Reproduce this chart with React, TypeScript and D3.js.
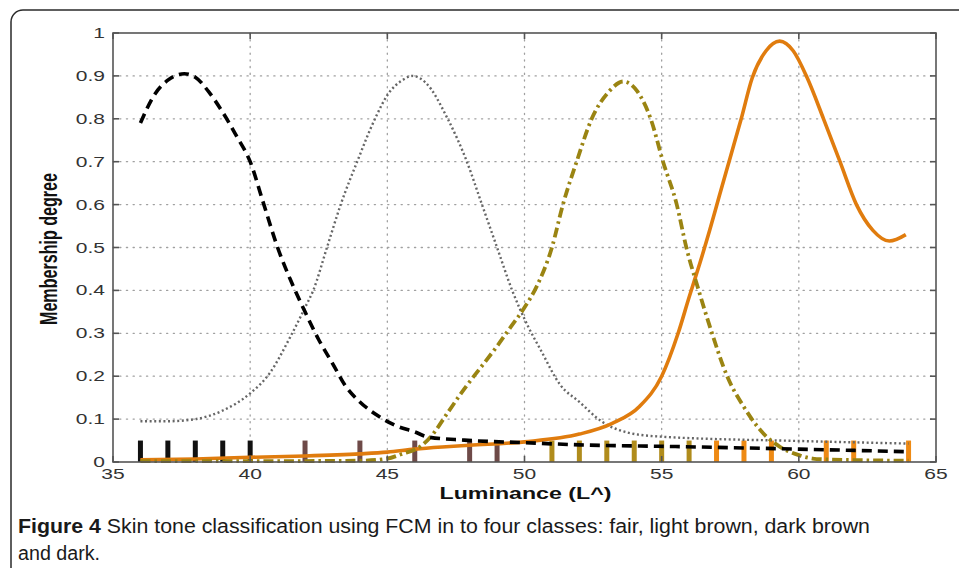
import { useEffect, useRef } from "react";
import * as d3 from "d3";

type Pt = [number, number];

// membership curves: [luminance, degree]
const FAIR: Pt[] = [
  [36, 0.79], [36.5, 0.855], [37, 0.89], [37.6, 0.905], [38, 0.897], [38.5, 0.862],
  [39, 0.815], [39.5, 0.76], [40, 0.7], [40.5, 0.6], [41, 0.5], [41.5, 0.42], [42, 0.35],
  [42.5, 0.285], [43, 0.23], [43.5, 0.175], [44, 0.14], [44.7, 0.106], [45.3, 0.085],
  [46, 0.07], [46.5, 0.058], [47.8, 0.051], [50, 0.045], [52, 0.04], [55.5, 0.036],
  [60, 0.03], [64, 0.024],
];
const LIGHT_BROWN: Pt[] = [
  [36, 0.095], [37, 0.095], [38, 0.1], [39, 0.12], [40, 0.16], [40.7, 0.206],
  [41.45, 0.29], [42, 0.36], [42.3, 0.4], [42.8, 0.5], [43.3, 0.6], [43.9, 0.7],
  [44.55, 0.8], [45, 0.855], [45.6, 0.892], [45.9, 0.9], [46.4, 0.884], [47.2, 0.8],
  [47.9, 0.7], [48.45, 0.6], [49, 0.5], [49.55, 0.4], [50.1, 0.32], [50.6, 0.26],
  [51.3, 0.18], [52, 0.14], [52.8, 0.095], [53.8, 0.068], [55, 0.059], [60, 0.049], [64, 0.043],
];
const DARK_BROWN: Pt[] = [
  [36, 0.002], [40, 0.002], [44, 0.003], [45, 0.008], [45.5, 0.018], [46.2, 0.036],
  [46.6, 0.06], [47.2, 0.115], [47.8, 0.17], [48.4, 0.22], [49, 0.27], [49.5, 0.315],
  [50, 0.36], [50.45, 0.41], [51, 0.5], [51.4, 0.6], [51.9, 0.7], [52.45, 0.8],
  [53.1, 0.865], [53.6, 0.887], [54.1, 0.865], [54.6, 0.8], [55.05, 0.7], [55.55, 0.6],
  [55.9, 0.5], [56.35, 0.4], [56.8, 0.307], [57.4, 0.198], [58, 0.128], [58.7, 0.067],
  [59.3, 0.036], [60, 0.016], [60.5, 0.008], [61, 0.006], [64, 0.003],
];
const DARK: Pt[] = [
  [36, 0.005], [38, 0.007], [40, 0.011], [42, 0.014], [44, 0.019], [45, 0.023],
  [46, 0.03], [47, 0.035], [48, 0.039], [50, 0.047], [52, 0.065], [53.2, 0.09],
  [54.2, 0.13], [55, 0.2], [55.6, 0.3], [56, 0.384], [56.4, 0.465], [56.75, 0.54],
  [57.1, 0.62], [57.5, 0.71], [57.9, 0.8], [58.3, 0.895], [58.8, 0.958], [59.3, 0.981],
  [59.8, 0.958], [60.3, 0.896], [60.9, 0.8], [61.5, 0.7], [62.1, 0.6], [62.7, 0.54],
  [63.3, 0.515], [63.9, 0.53],
];

// classified samples (stems at the bottom)
const STEM_FAIR = [36, 37, 38, 39, 40];
const STEM_LIGHT = [42, 44, 46, 48, 49];
const STEM_DARKBROWN = [51, 52, 53, 54, 55, 56];
const STEM_DARK = [57, 58, 59, 61, 62, 64];
const STEM_H = 0.05;

const X_TICKS = [35, 40, 45, 50, 55, 60, 65];
const Y_TICKS = [0, 0.1, 0.2, 0.3, 0.4, 0.5, 0.6, 0.7, 0.8, 0.9, 1];

const CAPTION_BOLD = "Figure 4";
const CAPTION_1 = " Skin tone classification using FCM in to four classes: fair, light brown, dark brown";
const CAPTION_2 = "and dark.";

export default function App() {
  const svgRef = useRef<SVGSVGElement | null>(null);

  useEffect(() => {
    if (!svgRef.current) return;
    const W = 959, H = 568;
    const m = { top: 33, left: 113, right: 936, bottom: 462 };
    const SX = 1.45; // the plot's lettering is stretched horizontally

    const svg = d3.select(svgRef.current);
    svg.selectAll("*").remove();
    svg.attr("width", W).attr("height", H);

    svg.append("rect").attr("width", W).attr("height", H).attr("fill", "#fff");

    // frame round figure + caption
    svg.append("rect")
      .attr("x", 11).attr("y", 10).attr("width", 1000).attr("height", 620)
      .attr("rx", 12).attr("fill", "none").attr("stroke", "#2a2a2a").attr("stroke-width", 1.5);

    const x = d3.scaleLinear().domain([35, 65]).range([m.left, m.right]);
    const y = d3.scaleLinear().domain([0, 1]).range([m.bottom, m.top]);

    // grid
    const grid = svg.append("g").attr("stroke", "#a0a0a0").attr("stroke-width", 1.3)
      .attr("stroke-dasharray", "1.2,5.5").attr("stroke-linecap", "round");
    X_TICKS.slice(1, -1).forEach((t) => {
      grid.append("line").attr("x1", x(t)).attr("x2", x(t)).attr("y1", m.top).attr("y2", m.bottom);
    });
    Y_TICKS.slice(1, -1).forEach((t) => {
      grid.append("line").attr("x1", m.left).attr("x2", m.right).attr("y1", y(t)).attr("y2", y(t));
    });

    // stems
    const stems: [number[], string][] = [
      [STEM_FAIR, "#111"],
      [STEM_LIGHT, "#6e4a48"],
      [STEM_DARKBROWN, "#b08c1c"],
      [STEM_DARK, "#ee8a14"],
    ];
    stems.forEach(([xs, color]) => {
      svg.append("g").selectAll("line").data(xs).join("line")
        .attr("x1", (d) => x(d)).attr("x2", (d) => x(d))
        .attr("y1", y(0)).attr("y2", y(STEM_H))
        .attr("stroke", color).attr("stroke-width", 5);
    });

    // curves
    const line = d3.line<Pt>().x((d) => x(d[0])).y((d) => y(d[1])).curve(d3.curveMonotoneX);
    const SERIES: { data: Pt[]; color: string; width: number; dash: string }[] = [
      { data: LIGHT_BROWN, color: "#666", width: 2.4, dash: "2,2.6" },
      { data: DARK, color: "#e07c0e", width: 3.6, dash: "none" },
      { data: DARK_BROWN, color: "#9a8412", width: 3.8, dash: "10,4,2.5,4" },
      { data: FAIR, color: "#000", width: 3.6, dash: "10,6" },
    ];
    SERIES.forEach((s) => {
      svg.append("path").datum(s.data)
        .attr("fill", "none").attr("stroke", s.color).attr("stroke-width", s.width)
        .attr("stroke-dasharray", s.dash).attr("d", line);
    });

    // axes box + inward ticks
    svg.append("rect")
      .attr("x", m.left).attr("y", m.top).attr("width", m.right - m.left).attr("height", m.bottom - m.top)
      .attr("fill", "none").attr("stroke", "#555").attr("stroke-width", 1.6);
    const ticks = svg.append("g").attr("stroke", "#555").attr("stroke-width", 1.6);
    Y_TICKS.forEach((t) => {
      ticks.append("line").attr("x1", m.left).attr("x2", m.left + 6).attr("y1", y(t)).attr("y2", y(t));
      ticks.append("line").attr("x1", m.right - 6).attr("x2", m.right).attr("y1", y(t)).attr("y2", y(t));
    });
    X_TICKS.forEach((t) => {
      ticks.append("line").attr("x1", x(t)).attr("x2", x(t)).attr("y1", m.bottom).attr("y2", m.bottom - 6);
      ticks.append("line").attr("x1", x(t)).attr("x2", x(t)).attr("y1", m.top).attr("y2", m.top + 6);
    });

    const font = "'Liberation Sans', Arial, sans-serif";
    const fmt = d3.format("~g");

    svg.append("g").selectAll("text").data(Y_TICKS).join("text")
      .attr("transform", (d) => `translate(${m.left - 8},${y(d) + 5}) scale(${SX},1)`)
      .attr("text-anchor", "end").attr("font-family", font).attr("font-size", 14.5)
      .attr("fill", "#333").text((d) => fmt(d));

    svg.append("g").selectAll("text").data(X_TICKS).join("text")
      .attr("transform", (d) => `translate(${x(d)},${m.bottom + 17}) scale(${SX},1)`)
      .attr("text-anchor", "middle").attr("font-family", font).attr("font-size", 14.5)
      .attr("fill", "#333").text((d) => d);

    svg.append("text")
      .attr("transform", `translate(${(m.left + m.right) / 2 + 1},${m.bottom + 37}) scale(${SX},1)`)
      .attr("text-anchor", "middle").attr("font-family", font).attr("font-size", 16)
      .attr("font-weight", 700).attr("fill", "#111").text("Luminance (L^)");

    svg.append("text")
      .attr("transform", `translate(${57},${249}) scale(${SX},1) rotate(-90)`)
      .attr("text-anchor", "middle").attr("font-family", font).attr("font-size", 17)
      .attr("font-weight", 700).attr("fill", "#111")
      .attr("textLength", 152).attr("lengthAdjust", "spacingAndGlyphs")
      .text("Membership degree");

    // caption
    const cap = svg.append("text")
      .attr("x", 18).attr("y", 533).attr("font-family", font).attr("font-size", 20)
      .attr("fill", "#1a1a1a").attr("textLength", 852).attr("lengthAdjust", "spacingAndGlyphs");
    cap.append("tspan").attr("font-weight", 700).text(CAPTION_BOLD);
    cap.append("tspan").text(CAPTION_1);
    svg.append("text")
      .attr("x", 18).attr("y", 560).attr("font-family", font).attr("font-size", 20)
      .attr("fill", "#1a1a1a").attr("textLength", 82).attr("lengthAdjust", "spacingAndGlyphs")
      .text(CAPTION_2);
  }, []);

  return (
    <svg ref={svgRef} style={{ position: "absolute", left: 0, top: 0, display: "block" }} />
  );
}
